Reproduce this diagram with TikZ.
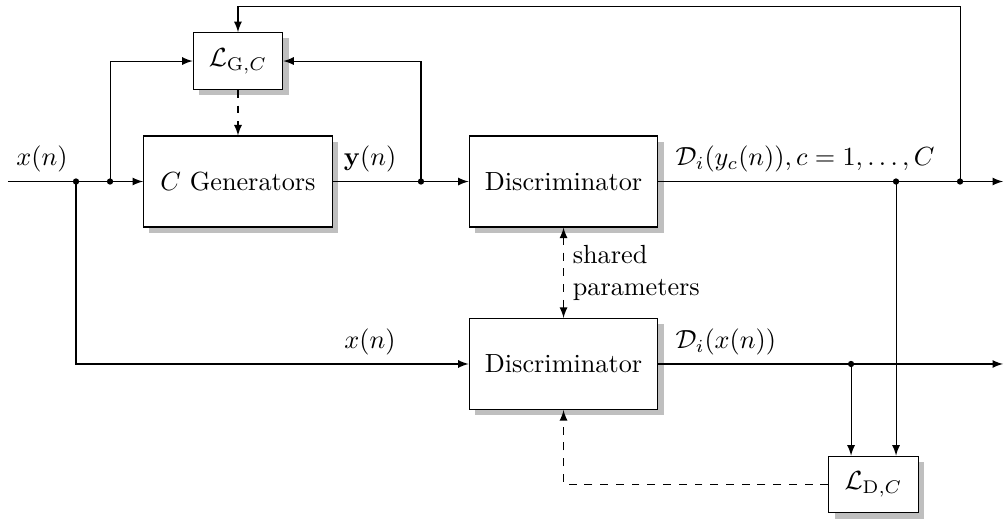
\documentclass[tikz,border=0pt]{standalone}
\usetikzlibrary{shadows}
\begin{document}
\begin{tikzpicture}[>=latex,
  block/.style={draw,fill=white,minimum width=2.53cm,minimum height=1.22cm,
    drop shadow={shadow xshift=2.2pt,shadow yshift=-2.2pt,fill=gray!50,opacity=1}},
  lossblock/.style={block,minimum width=1.2cm,minimum height=0.76cm}]
\useasboundingbox (0,0) rectangle (13.458,6.957);
% blocks
\node [block] (gen) at (3.19,4.524) {$C$ Generators};
\node [lossblock] (lg) at (3.19,6.139) {$\mathcal{L}_{\mathrm{G},C}$};
\node [block] (disc1) at (7.554,4.524) {Discriminator};
\node [block] (disc2) at (7.554,2.078) {Discriminator};
\node [lossblock] (ld) at (11.709,0.4625) {$\mathcal{L}_{\mathrm{D},C}$};
% branch points and ends
\coordinate (in) at (0.107,4.524);
\coordinate (d1) at (1.019,4.524);
\coordinate (d2) at (1.475,4.524);
\coordinate (d3) at (5.643,4.524);
\coordinate (d4) at (12.011,4.524);
\coordinate (d5) at (12.869,4.524);
\coordinate (d6) at (11.408,2.078);
\coordinate (top) at (12.869,6.871);
\coordinate (out1) at (13.445,4.524);
\coordinate (out2) at (13.445,2.078);
% generator part
\draw [->] (in) -- (gen);
\draw [->] (d2) |- (lg);
\draw [->] (d3) |- (lg);
\draw [->,dashed] (lg) -- (gen);
\draw [->] (gen) -- (disc1);
\draw [->] (d5) -- (top) -| (lg);
% discriminator part
\draw [->] (disc1) -- (out1);
\draw [<->,dashed] (disc1) -- (disc2) node [midway,right,align=left] {shared\\parameters};
\draw [->] (d1) |- (disc2);
\draw [->] (disc2) -- (out2);
\draw [->] (d4) -- (d4 |- ld.north);
\draw [->] (d6) -- (d6 |- ld.north);
\draw [->,dashed] (ld) -| (disc2);
% dots
\foreach \p in {d1,d2,d3,d4,d5,d6}
  \fill (\p) circle (1.2pt);
% labels
\node [above] (xin) at (0.563,4.524) {$x(n)$};
\node [above] (yout) at (4.96,4.524) {$\mathbf{y}(n)$};
\node [above] (xlow) at (4.96,2.078) {$x(n)$};
\node [above right,xshift=3pt] (dy) at (disc1.east) {$\mathcal{D}_i(y_c(n)), c=1,\ldots,C$};
\node [above right,xshift=3pt] (dx) at (disc2.east) {$\mathcal{D}_i(x(n))$};
\end{tikzpicture}
\end{document}
